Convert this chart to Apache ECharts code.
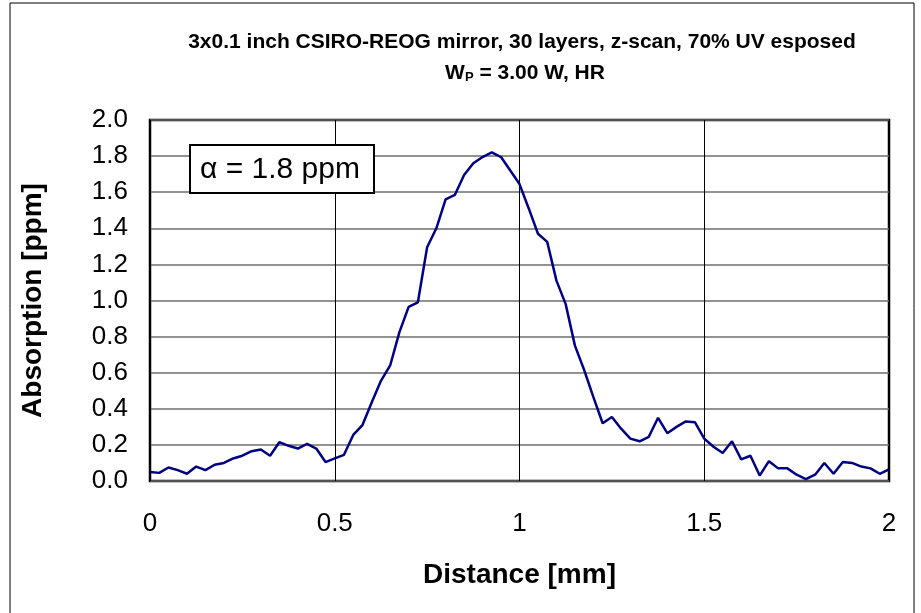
<!DOCTYPE html>
<html>
<head>
<meta charset="utf-8">
<script src="https://cdn.jsdelivr.net/npm/echarts@6/dist/echarts.min.js"></script>
<style>
  html, body { margin: 0; padding: 0; background: #fff; }
  #chart { width: 921px; height: 613px; }
</style>
</head>
<body>
<div id="chart"></div>
<script>
// z-scan position [mm]
var distance = [
  0, 0.025, 0.05, 0.075, 0.1, 0.125, 0.15, 0.175, 0.2, 0.225,
  0.25, 0.275, 0.3, 0.325, 0.35, 0.375, 0.4, 0.425, 0.45, 0.475,
  0.5, 0.525, 0.55, 0.575, 0.6, 0.625, 0.65, 0.675, 0.7, 0.725,
  0.75, 0.775, 0.8, 0.825, 0.85, 0.875, 0.9, 0.925, 0.95, 0.975,
  1, 1.025, 1.05, 1.075, 1.1, 1.125, 1.15, 1.175, 1.2, 1.225,
  1.25, 1.275, 1.3, 1.325, 1.35, 1.375, 1.4, 1.425, 1.45, 1.475,
  1.5, 1.525, 1.55, 1.575, 1.6, 1.625, 1.65, 1.675, 1.7, 1.725,
  1.75, 1.775, 1.8, 1.825, 1.85, 1.875, 1.9, 1.925, 1.95, 1.975, 2
];
// absorption [ppm]
var absorption = [
  0.05, 0.045, 0.075, 0.06, 0.04, 0.08, 0.06, 0.09, 0.10, 0.125,
  0.14, 0.165, 0.175, 0.14, 0.215, 0.195, 0.18, 0.205, 0.18, 0.105,
  0.125, 0.145, 0.255, 0.31, 0.435, 0.555, 0.64, 0.825, 0.965, 0.99,
  1.295, 1.40, 1.56, 1.585, 1.695, 1.76, 1.795, 1.82, 1.795, 1.72,
  1.645, 1.51, 1.37, 1.325, 1.11, 0.98, 0.75, 0.615, 0.465, 0.32,
  0.355, 0.29, 0.235, 0.22, 0.245, 0.35, 0.265, 0.30, 0.33, 0.325,
  0.235, 0.19, 0.155, 0.22, 0.12, 0.14, 0.03, 0.11, 0.07, 0.07,
  0.035, 0.01, 0.035, 0.10, 0.04, 0.105, 0.10, 0.08, 0.07, 0.04, 0.065
];
var titleLine1 = '3x0.1 inch CSIRO-REOG mirror, 30 layers, z-scan, 70% UV esposed';
var titleLine2 = 'W{sub|P} = 3.00 W, HR';
var noteText = 'α = 1.8 ppm';

var points = [];
for (var i = 0; i < distance.length; i++) {
    points.push([distance[i], absorption[i]]);
}

var myChart = echarts.init(document.getElementById('chart'));
var font = 'Arial, "Liberation Sans", sans-serif';

var option = {
    backgroundColor: '#fff',
    animation: false,
    title: [{
        text: titleLine1,
        left: 517,
        top: 27,
        textAlign: 'center',
        textStyle: { fontFamily: font, fontSize: 21, fontWeight: 'bold', color: '#000' }
    }, {
        text: titleLine2,
        left: 520,
        top: 57,
        textAlign: 'center',
        textStyle: {
            fontFamily: font, fontSize: 21, fontWeight: 'bold', color: '#000',
            rich: {
                sub: { fontFamily: font, fontSize: 13, fontWeight: 'bold', color: '#000', verticalAlign: 'bottom', padding: [9, 0, 0, 0] }
            }
        }
    }],
    grid: {
        left: 150,
        right: 32,
        top: 120,
        bottom: 132,
        show: true,
        borderColor: '#000',
        borderWidth: 2.5,
        backgroundColor: 'transparent'
    },
    xAxis: {
        type: 'value',
        min: 0,
        max: 2,
        interval: 0.5,
        name: 'Distance [mm]',
        nameLocation: 'middle',
        nameGap: 80,
        nameTextStyle: { fontFamily: font, fontSize: 28, fontWeight: 'bold', color: '#000' },
        axisLine: { show: false },
        axisTick: { show: false },
        axisLabel: {
            margin: 30,
            fontFamily: font, fontSize: 26, color: '#000',
            formatter: function (v) { return String(v); }
        },
        splitLine: { show: true, lineStyle: { color: '#000', width: 1 } }
    },
    yAxis: {
        type: 'value',
        min: 0,
        max: 2,
        interval: 0.2,
        name: 'Absorption [ppm]',
        nameLocation: 'middle',
        nameGap: 103,
        nameTextStyle: { fontFamily: font, fontSize: 28, fontWeight: 'bold', color: '#000' },
        axisLine: { show: false },
        axisTick: { show: false },
        axisLabel: {
            margin: 22,
            fontFamily: font, fontSize: 26, color: '#000',
            formatter: function (v) { return v.toFixed(1); }
        },
        splitLine: { show: true, lineStyle: { color: '#6e6e6e', width: 1.5 } }
    },
    graphic: [{
        type: 'rect',
        shape: { x: 10, y: 3, width: 904, height: 640 },
        style: { fill: 'none', stroke: '#000', lineWidth: 1 },
        z: 100
    }, {
        type: 'rect',
        shape: { x: 190, y: 145, width: 184, height: 48 },
        style: { fill: '#fff', stroke: '#000', lineWidth: 2 },
        z: 100
    }, {
        type: 'text',
        x: 280,
        y: 170,
        style: {
            text: noteText,
            font: '30px ' + font,
            fill: '#000',
            textAlign: 'center',
            textVerticalAlign: 'middle'
        },
        z: 101
    }],
    series: [{
        type: 'line',
        data: points,
        symbol: 'none',
        lineStyle: { color: '#000080', width: 2.5 }
    }]
};

myChart.setOption(option);
</script>
</body>
</html>
